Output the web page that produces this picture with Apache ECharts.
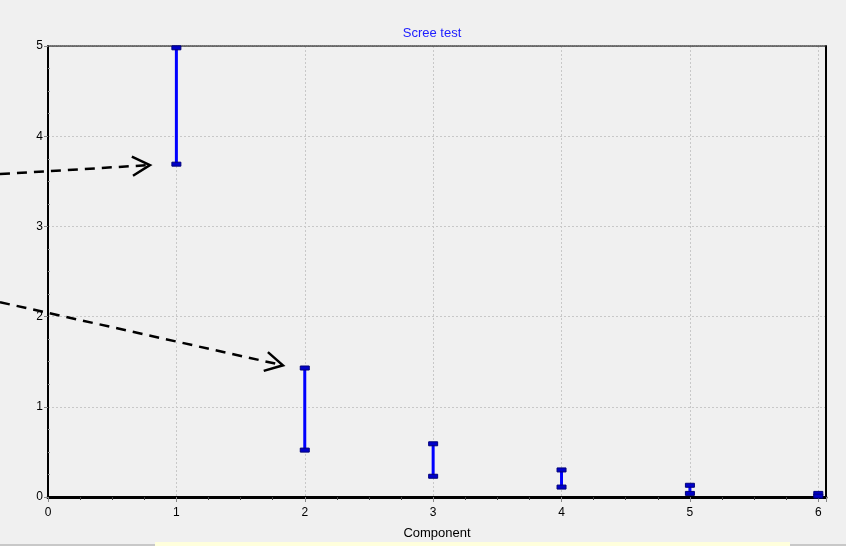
<!DOCTYPE html>
<html>
<head>
<meta charset="utf-8">
<script src="https://cdn.jsdelivr.net/npm/echarts@6/dist/echarts.min.js"></script>
<style>
  html, body { margin: 0; padding: 0; background: #f0f0f0; }
  #graph { width: 846px; height: 546px; }
</style>
</head>
<body>
<div id="graph"></div>
<script>
// components and the low / high ends of each eigenvalue interval
var components = [1, 2, 3, 4, 5, 6];
var lowValues = [3.69, 0.52, 0.23, 0.11, 0.04, 0.01];
var highValues = [4.98, 1.43, 0.59, 0.30, 0.13, 0.04];
var xTicks = [0, 1, 2, 3, 4, 5, 6];
var yTicks = [0, 1, 2, 3, 4, 5];
// annotation arrows: start x, start y, end x, end y (data units)
var arrows = [
  [-0.374, 3.58, 0.794, 3.68],
  [-0.374, 2.16, 1.83, 1.46]
];

var barData = [];
for (var i = 0; i < components.length; i++) {
  barData.push([components[i], lowValues[i], highValues[i]]);
}

var myChart = echarts.init(document.getElementById('graph'));

function renderBar(params, api) {
  var lo = api.coord([api.value(0), api.value(1)]);
  var hi = api.coord([api.value(0), api.value(2)]);
  var capStyle = {fill: '#0000c8', stroke: '#00007a', lineWidth: 1};
  return {
    type: 'group',
    children: [
      {type: 'line', shape: {x1: lo[0], y1: lo[1], x2: hi[0], y2: hi[1]},
        style: {stroke: '#0000ff', lineWidth: 3}},
      {type: 'rect', shape: {x: hi[0] - 4.5, y: hi[1] - 2, width: 9, height: 4}, style: capStyle},
      {type: 'rect', shape: {x: lo[0] - 4.5, y: lo[1] - 2, width: 9, height: 4}, style: capStyle}
    ]
  };
}

function renderArrow(params, api) {
  var p1 = api.coord([api.value(0), api.value(1)]);
  var p2 = api.coord([api.value(2), api.value(3)]);
  var ang = Math.atan2(p2[1] - p1[1], p2[0] - p1[0]);
  var len = 20, spread = 0.5;
  var a1 = [p2[0] - len * Math.cos(ang - spread), p2[1] - len * Math.sin(ang - spread)];
  var a2 = [p2[0] - len * Math.cos(ang + spread), p2[1] - len * Math.sin(ang + spread)];
  return {
    type: 'group',
    children: [
      {type: 'line', shape: {x1: p1[0], y1: p1[1], x2: p2[0] - 2 * Math.cos(ang), y2: p2[1] - 2 * Math.sin(ang)},
        style: {stroke: '#000', lineWidth: 2.5, lineDash: [10, 7]}},
      {type: 'polyline', shape: {points: [a1, p2, a2]},
        style: {stroke: '#000', lineWidth: 2.5, fill: null}}
    ]
  };
}

myChart.setOption({
  backgroundColor: '#f0f0f0',
  animation: false,
  textStyle: {fontFamily: 'Liberation Sans'},
  title: {
    text: 'Scree test',
    left: 427,
    textAlign: 'center',
    top: 22,
    textStyle: {color: '#2020ff', fontSize: 13, fontWeight: 'normal'}
  },
  graphic: [
    {type: 'rect', shape: {x: 155, y: 542, width: 635, height: 4}, style: {fill: '#ffffdc'}},
    {type: 'line', shape: {x1: 0, y1: 545, x2: 155, y2: 545}, style: {stroke: '#a0a0a0', lineWidth: 1}},
    {type: 'line', shape: {x1: 790, y1: 545, x2: 846, y2: 545}, style: {stroke: '#a0a0a0', lineWidth: 1}}
  ],
  grid: {left: 48, right: 20, top: 46, bottom: 49, outerBoundsMode: 'none', containLabel: false},
  xAxis: [
    {
      type: 'value',
      min: 0,
      max: 6.06,
      interval: 1,
      name: 'Component',
      nameLocation: 'middle',
      nameGap: 30,
      nameTextStyle: {color: '#000', fontSize: 13},
      axisLine: {onZero: false, lineStyle: {color: '#000', width: 3}},
      axisTick: {length: 5, lineStyle: {color: '#888'}},
      minorTick: {show: true, splitNumber: 4, length: 3, lineStyle: {color: '#444'}},
      axisLabel: {
        color: '#000', fontSize: 12, margin: 10,
        formatter: function (v) { return xTicks.indexOf(v) >= 0 ? String(v) : ''; }
      },
      splitLine: {show: true, lineStyle: {color: '#c8c8c8', type: [2, 2]}}
    },
    {
      type: 'value',
      position: 'top',
      min: 0,
      max: 6.06,
      axisLine: {show: true, onZero: false, lineStyle: {color: '#444', width: 1.5, type: [1, 1]}},
      axisTick: {show: false},
      axisLabel: {show: false},
      splitLine: {show: false}
    }
  ],
  yAxis: [
    {
      type: 'value',
      min: 0,
      max: 5,
      interval: 1,
      axisLine: {show: true, onZero: false, lineStyle: {color: '#000', width: 2}},
      axisTick: {show: true, length: 4, lineStyle: {color: '#888'}},
      minorTick: {show: true, splitNumber: 4, length: -2, lineStyle: {color: '#999'}},
      axisLabel: {
        color: '#000', fontSize: 12, margin: 5,
        formatter: function (v) { return yTicks.indexOf(v) >= 0 ? String(v) : ''; }
      },
      splitLine: {show: true, lineStyle: {color: '#c8c8c8', type: [2, 2]}}
    },
    {
      type: 'value',
      position: 'right',
      min: 0,
      max: 5,
      axisLine: {show: true, onZero: false, lineStyle: {color: '#000', width: 2}},
      axisTick: {show: false},
      axisLabel: {show: false},
      splitLine: {show: false}
    }
  ],
  series: [
    {
      name: 'interval',
      type: 'custom',
      renderItem: renderBar,
      encode: {x: 0, y: [1, 2]},
      data: barData,
      z: 5
    },
    {
      name: 'arrows',
      type: 'custom',
      renderItem: renderArrow,
      clip: false,
      encode: {x: [0, 2], y: [1, 3]},
      data: arrows,
      z: 10
    }
  ]
});
</script>
</body>
</html>
